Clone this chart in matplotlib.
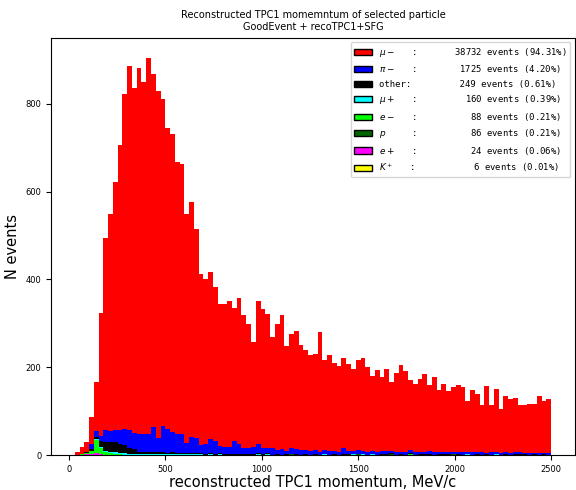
import numpy as np
import matplotlib
matplotlib.use('Agg')
import matplotlib.pyplot as plt
import matplotlib.patches as mpatches

# binning: 100 bins between data min and 2500 MeV/c
p_min, p_max, n_bins = 30, 2500, 100

# counts per bin (10 bins per row)
mu_minus = [
    7, 16, 22, 62, 113, 280, 437, 495, 564, 648,
    762, 830, 786, 834, 802, 857, 806, 791, 746, 686,
    678, 618, 616, 522, 536, 477, 390, 377, 380, 350,
    325, 326, 333, 304, 333, 303, 282, 239, 327, 317,
    306, 254, 287, 307, 238, 260, 269, 238, 227, 220,
    219, 272, 205, 218, 201, 196, 206, 198, 188, 206,
    211, 192, 172, 187, 168, 186, 157, 178, 197, 185,
    160, 155, 166, 177, 150, 171, 142, 154, 137, 148,
    152, 148, 116, 141, 133, 109, 152, 109, 143, 100,
    127, 123, 125, 109, 109, 111, 111, 131, 119, 122,
]
pi_minus = [
    0, 0, 2, 12, 14, 11, 29, 24, 29, 33,
    38, 40, 37, 40, 42, 41, 57, 33, 60, 55,
    47, 44, 42, 23, 36, 34, 19, 22, 33, 30,
    16, 16, 16, 29, 22, 13, 14, 17, 21, 14,
    12, 14, 10, 12, 8, 12, 11, 11, 10, 8,
    9, 7, 9, 8, 7, 6, 14, 7, 6, 8,
    6, 7, 6, 5, 8, 7, 6, 7, 6, 5,
    8, 5, 6, 5, 7, 5, 4, 5, 6, 4,
    5, 5, 4, 6, 4, 5, 3, 5, 4, 4,
    5, 3, 4, 4, 3, 4, 3, 3, 2, 4,
]
other = [
    0, 0, 1, 3, 4, 14, 20, 22, 22, 20,
    18, 14, 10, 5, 4, 4, 4, 3, 3, 3,
    3, 3, 2, 2, 2, 2, 2, 2, 2, 2,
    2, 2, 2, 2, 2, 2, 2, 2, 2, 2,
    2, 1, 1, 1, 1, 1, 1, 1, 1, 1,
    1, 1, 1, 1, 1, 1, 1, 1, 1, 1,
    1, 1, 1, 1, 1, 1, 1, 1, 1, 1,
    1, 1, 1, 1, 1, 1, 1, 1, 1, 1,
    1, 1, 1, 1, 1, 1, 1, 1, 1, 1,
    1, 1, 1, 1, 1, 1, 1, 1, 1, 1,
]
mu_plus = [
    0, 0, 0, 0, 1, 1, 2, 4, 4, 3,
    3, 2, 2, 3, 2, 2, 2, 2, 3, 2,
    2, 2, 2, 2, 2, 2, 2, 1, 2, 1,
    1, 0, 1, 0, 1, 0, 1, 0, 1, 0,
    1, 0, 1, 0, 1, 0, 1, 0, 1, 0,
    1, 0, 1, 0, 1, 0, 1, 0, 1, 0,
    1, 0, 1, 0, 1, 0, 1, 0, 1, 0,
    1, 0, 1, 0, 1, 0, 1, 0, 1, 0,
    1, 0, 1, 0, 1, 0, 1, 0, 1, 0,
    1, 0, 1, 0, 1, 0, 1, 0, 1, 0,
]
e_minus = [
    0, 1, 3, 8, 30, 14, 6, 3, 2, 1,
    1, 0, 1, 0, 0, 1, 0, 0, 0, 0,
    1, 0, 0, 0, 0, 0, 0, 0, 0, 0,
    0, 0, 0, 0, 0, 0, 0, 0, 0, 0,
    0, 0, 0, 0, 0, 0, 0, 0, 0, 0,
    0, 0, 0, 0, 0, 0, 0, 0, 1, 0,
    0, 0, 0, 0, 0, 1, 0, 0, 0, 0,
    1, 0, 0, 0, 0, 0, 0, 0, 0, 0,
    0, 0, 0, 0, 0, 0, 0, 0, 0, 0,
    0, 0, 0, 0, 0, 0, 0, 0, 0, 0,
]
protons = [
    0, 0, 0, 0, 0, 0, 0, 0, 0, 0,
    0, 0, 0, 0, 0, 0, 0, 0, 0, 0,
    0, 0, 0, 0, 0, 0, 0, 0, 0, 0,
    1, 0, 0, 0, 0, 0, 0, 0, 1, 0,
    0, 0, 0, 0, 0, 1, 0, 0, 0, 0,
    0, 0, 1, 0, 0, 0, 0, 1, 0, 2,
    0, 0, 1, 0, 0, 0, 2, 0, 0, 0,
    1, 0, 0, 1, 0, 0, 0, 1, 0, 2,
    0, 0, 1, 0, 0, 0, 0, 0, 1, 0,
    0, 0, 0, 1, 0, 0, 0, 0, 0, 0,
]
e_plus = [
    0, 1, 2, 2, 5, 3, 1, 1, 1, 0,
    0, 0, 0, 0, 1, 0, 0, 0, 0, 0,
    0, 0, 1, 0, 0, 0, 0, 0, 0, 0,
    0, 1, 0, 0, 0, 0, 0, 0, 0, 0,
    0, 0, 0, 0, 0, 1, 0, 0, 0, 0,
    0, 0, 0, 0, 0, 0, 0, 0, 0, 0,
    1, 0, 0, 0, 0, 0, 0, 0, 0, 0,
    0, 0, 0, 0, 0, 0, 0, 0, 0, 0,
    0, 0, 0, 0, 0, 0, 0, 0, 0, 0,
    0, 0, 0, 0, 0, 0, 0, 0, 0, 0,
]
k_plus = [
    0, 0, 0, 0, 0, 0, 0, 0, 0, 1,
    0, 0, 0, 0, 0, 0, 0, 1, 0, 0,
    0, 0, 0, 0, 0, 0, 0, 0, 0, 0,
    0, 0, 0, 0, 0, 0, 0, 0, 0, 0,
    1, 0, 0, 0, 0, 0, 0, 0, 0, 0,
    0, 0, 0, 0, 0, 0, 0, 0, 0, 0,
    0, 0, 0, 0, 0, 0, 0, 0, 0, 0,
    0, 0, 0, 0, 0, 0, 0, 0, 0, 0,
    0, 0, 0, 0, 0, 0, 0, 0, 0, 0,
    0, 0, 0, 0, 0, 0, 0, 0, 0, 0,
]

# legend entries (full sample totals)
names = [r"$\mu-$   ", r"$\pi-$   ", "other", r"$\mu+$   ", r"$e-$   ",
         r"$p$     ", r"$e+$   ", r"$K^+$   "]
totals = [38732, 1725, 249, 160, 88, 86, 24, 6]
colors = ['red', 'blue', 'black', 'cyan', 'lime', 'darkgreen', 'magenta', 'yellow']

series = [mu_minus, pi_minus, other, mu_plus, e_minus, protons, e_plus, k_plus]

bins = np.linspace(p_min, p_max, n_bins + 1)
centers = 0.5 * (bins[1:] + bins[:-1])

fig = plt.figure(figsize=(5.76, 4.9), dpi=100)
ax = fig.add_axes([0.0885, 0.0714, 0.9095, 0.851])

# stacked: smallest species at the bottom, mu- on top
ax.hist([centers] * len(series), bins=bins, weights=series[::-1],
        stacked=True, histtype='stepfilled', color=colors[::-1])

n_all = sum(totals)
handles = []
for name, n, c in zip(names, totals, colors):
    lab = "%s:%12d events (%.2f%%)" % (name, n, 100.0 * n / n_all)
    handles.append(mpatches.Patch(facecolor=c, edgecolor='black', label=lab))
ax.legend(handles=handles, loc='upper right', prop={'family': 'monospace', 'size': 6.4})

ax.set_title("Reconstructed TPC1 momemntum of selected particle\nGoodEvent + recoTPC1+SFG",
             fontsize=7)
ax.set_xlabel("reconstructed TPC1 momentum, MeV/c", fontsize=10.5, labelpad=1)
ax.set_ylabel("N events", fontsize=10.5)
ax.set_xticks([0, 500, 1000, 1500, 2000, 2500])
ax.set_yticks([0, 200, 400, 600, 800])
ax.tick_params(labelsize=6)

fig.savefig("out.png", dpi=100)
